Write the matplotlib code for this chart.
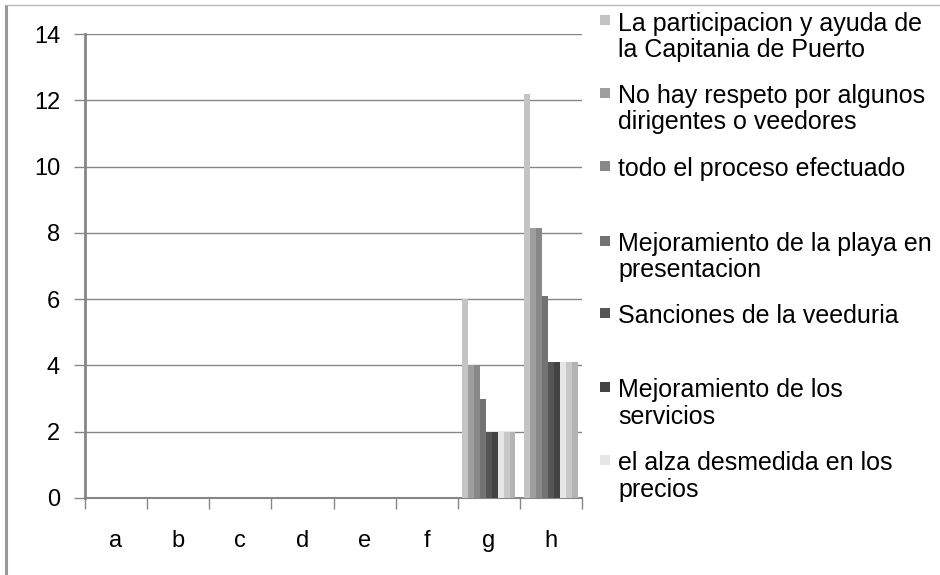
import matplotlib
matplotlib.use("Agg")
import matplotlib.pyplot as plt
import numpy as np
from matplotlib.patches import Rectangle
from matplotlib.lines import Line2D

plt.rcParams['font.family'] = ['Liberation Sans', 'DejaVu Sans']

categories = ['a', 'b', 'c', 'd', 'e', 'f', 'g', 'h']
series_names = [
    'La participacion y ayuda de\nla Capitania de Puerto',
    'No hay respeto por algunos\ndirigentes o veedores',
    'todo el proceso efectuado',
    'Mejoramiento de la playa en\npresentacion',
    'Sanciones de la veeduria',
    'Mejoramiento de los\nservicios',
    'el alza desmedida en los\nprecios',
    'serie 8',
    'serie 9',
]
values = [
    [0, 0, 0, 0, 0, 0, 6, 12.2],
    [0, 0, 0, 0, 0, 0, 4, 8.15],
    [0, 0, 0, 0, 0, 0, 4, 8.15],
    [0, 0, 0, 0, 0, 0, 3, 6.1],
    [0, 0, 0, 0, 0, 0, 2, 4.1],
    [0, 0, 0, 0, 0, 0, 2, 4.1],
    [0, 0, 0, 0, 0, 0, 2, 4.1],
    [0, 0, 0, 0, 0, 0, 2, 4.1],
    [0, 0, 0, 0, 0, 0, 2, 4.1],
]
colors = ['#c4c4c4', '#9e9e9e', '#888888', '#737373', '#555555',
          '#444444', '#e6e6e6', '#c8c8c8', '#b4b4b4']
yticks = [0, 2, 4, 6, 8, 10, 12, 14]

W, H = 940, 575
fig = plt.figure(figsize=(W / 100, H / 100), dpi=100)
ax = fig.add_axes([85 / W, 1 - 498 / H, (582 - 85) / W, (498 - 34) / H])

n = len(values)
x = np.arange(len(categories))
gap = 1.5
bw = 1.0 / (n + gap)
for i, (vals, c) in enumerate(zip(values, colors)):
    offs = -0.5 + gap * bw / 2 + bw * (i + 0.5)
    ax.bar(x + offs, vals, width=bw, color=c, edgecolor='none', zorder=3)

FS = 17
ax.set_xlim(-0.5, len(categories) - 0.5)
ax.set_ylim(0, 14)
ax.set_yticks(yticks)
ax.set_yticklabels([str(v) for v in yticks], fontsize=FS)
ax.tick_params(axis='y', length=8, width=1, color='#868686', pad=10)
ax.set_xticks(x)
ax.set_xticklabels(categories, fontsize=FS)
ax.tick_params(axis='x', length=0, pad=23)
ax.set_xticks(np.arange(len(categories) + 1) - 0.5, minor=True)
ax.tick_params(axis='x', which='minor', length=8, width=1, color='#868686')
ax.grid(axis='y', color='#868686', linewidth=1, zorder=0)
for s in ['top', 'right']:
    ax.spines[s].set_visible(False)
ax.spines['left'].set_color('#868686')
ax.spines['left'].set_linewidth(2)
ax.spines['bottom'].set_color('#868686')
ax.spines['bottom'].set_linewidth(1.5)

# outer frame (partially visible)
fig.add_artist(Line2D([6 / W, 6 / W], [1 - 6 / H, 0], color='#999999', lw=2.2, transform=fig.transFigure))
fig.add_artist(Line2D([6 / W, 1], [1 - 5 / H, 1 - 5 / H], color='#bbbbbb', lw=1, transform=fig.transFigure))

# legend (first seven entries visible)
baselines = [30.7, 103, 176, 251, 323, 397, 470]
line_step = 26.5
for name, c, yb in zip(series_names[:7], colors[:7], baselines):
    fig.add_artist(Rectangle((600 / W, 1 - (yb - 5.5) / H), 10 / W, 10 / H,
                             facecolor=c, edgecolor='none', transform=fig.transFigure))
    for k, line in enumerate(name.split('\n')):
        fig.text(618 / W, 1 - (yb + k * line_step) / H, line, fontsize=18,
                 va='baseline', ha='left')

fig.savefig('out.png', dpi=100)
